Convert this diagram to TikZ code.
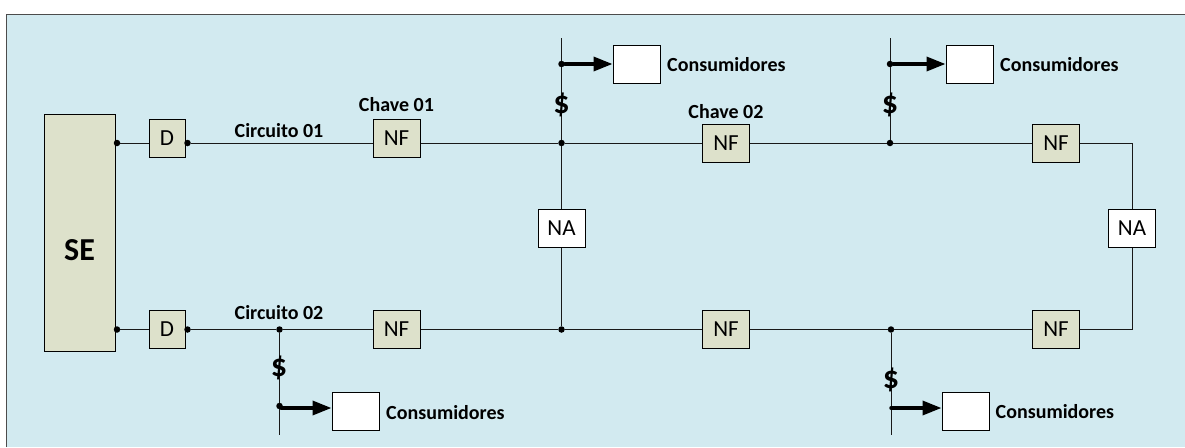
\documentclass[tikz,border=0pt]{standalone}
\usepackage{fontspec}
\setmainfont{Carlito}
\usetikzlibrary{arrows.meta}
\definecolor{panelblue}{HTML}{D2EAF0}
\definecolor{boxgreen}{HTML}{DDE1CB}
\tikzset{
  swbox/.style={draw=black, line width=1pt, fill=boxgreen, minimum width=47pt, minimum height=38pt, inner sep=0pt, font=\fontsize{23}{23}\selectfont},
  dbox/.style={swbox, minimum width=36pt},
  nabox/.style={swbox, fill=white},
  loadbox/.style={nabox},
  tag/.style={font=\bfseries\fontsize{20}{20}\selectfont, inner sep=0pt},
  money/.style={font=\bfseries\fontsize{32}{32}\selectfont, inner sep=0pt},
  dot/.style={circle, fill=black, inner sep=0pt, minimum size=6.5pt},
  wire/.style={line width=1pt, draw=black!90},
  feed/.style={line width=3.5pt, line cap=round, -{Triangle[length=19pt,width=14pt]}},
}
\begin{document}
\begin{tikzpicture}[x=1pt, y=-1pt]
  \useasboundingbox (0,0) rectangle (1185,447);
  \fill[panelblue] (6,14) rectangle (1185,447);
  \draw[line width=1pt, draw=black!70] (6.5,447) -- (6.5,14) -- (1185,14);

  % substation and breakers
  \node[swbox, minimum width=71pt, minimum height=237pt] (se) at (79.5,232.5) {};
  \node[font=\bfseries\fontsize{32}{32}\selectfont, inner sep=0pt] (selabel) at (79.5,250) {SE};
  \node[dbox] (d1) at (167,138) {D};
  \node[dbox] (d2) at (167,329.5) {D};

  % switches
  \node[swbox] (nf1) at (396.5,138.5) {NF};
  \node[swbox] (nf2) at (726,143) {NF};
  \node[swbox] (nf3) at (1056,143) {NF};
  \node[swbox] (nf4) at (396.5,329.5) {NF};
  \node[swbox] (nf5) at (726,329.5) {NF};
  \node[swbox] (nf6) at (1056,329.5) {NF};
  \node[nabox] (na1) at (561.5,228.5) {NA};
  \node[nabox] (na2) at (1132,228.5) {NA};

  % junctions on the circuits
  \node[dot] (se1) at (117,143) {};
  \node[dot] (se2) at (117,329.5) {};
  \node[dot] (o1) at (187.5,143) {};
  \node[dot] (o2) at (187.5,329.5) {};
  \node[dot] (j1) at (561.5,143) {};
  \node[dot] (j2) at (890,143) {};
  \node[dot] (j3) at (279.5,329.5) {};
  \node[dot] (j4) at (561.5,329.5) {};
  \node[dot] (j5) at (891,329.5) {};
  \coordinate (c1) at (1132.5,143);
  \coordinate (c2) at (1132.5,329.5);

  % branch ends and tapping points
  \coordinate (t1) at (561.5,38);
  \coordinate (t2) at (890,38);
  \coordinate (b1) at (279.5,435);
  \coordinate (b2) at (891,435);
  \node[dot] (k1) at (561.5,64) {};
  \node[dot] (k2) at (890,64) {};
  \node[dot] (k3) at (279.5,406) {};
  \coordinate (a3) at (281,408);
  \coordinate (k4) at (891,408);

  % loads
  \node[loadbox] (l1) at (636.5,64) {};
  \node[loadbox] (l2) at (969.5,64) {};
  \node[loadbox] (l3) at (355.5,411.5) {};
  \node[loadbox] (l4) at (965.5,411.5) {};

  % circuit 01
  \draw[wire] (se1) -- (se1 -| d1.west);
  \draw[wire] (o1) -- (o1 -| nf1.west);
  \draw[wire] (nf1.east |- j1) -- (j1) -- (nf2) -- (j2) -- (nf3) -- (c1) -- (c1 |- na2.north);
  \draw[wire] (c2 |- na2.south) -- (c2) -- (nf6) -- (j5) -- (nf5) -- (j4) -- (nf4);
  % circuit 02
  \draw[wire] (se2) -- (d2);
  \draw[wire] (o2) -- (j3) -- (nf4);
  % branches
  \draw[wire] (t1) -- (k1) -- (j1) -- (na1) -- (j4);
  \draw[wire] (t2) -- (k2) -- (j2);
  \draw[wire] (j3) -- (k3) -- (b1);
  \draw[wire] (j5) -- (k4) -- (b2);

  \draw[feed] (k1) -- (l1);
  \draw[feed] (k2) -- (l2);
  \draw[feed] (a3) -- (a3 -| l3.west);
  \draw[feed] (k4) -- (k4 -| l4.west);

  \node[tag] (lc1) at (279,131) {Circuito 01};
  \node[tag] (lc2) at (279,313) {Circuito 02};
  \node[tag] (lk1) at (396.5,105) {Chave 01};
  \node[tag] (lk2) at (726,112) {Chave 02};
  \node[tag, anchor=west] (ln1) at (667,65) {Consumidores};
  \node[tag, anchor=west] (ln2) at (1000,65) {Consumidores};
  \node[tag, anchor=west] (ln3) at (386,412.5) {Consumidores};
  \node[tag, anchor=west] (ln4) at (995.5,412) {Consumidores};

  \node[money] (m1) at (561.5,105) {\$};
  \node[money] (m2) at (890,105) {\$};
  \node[money] (m3) at (279,368) {\$};
  \node[money] (m4) at (891,380) {\$};
\end{tikzpicture}
\end{document}
